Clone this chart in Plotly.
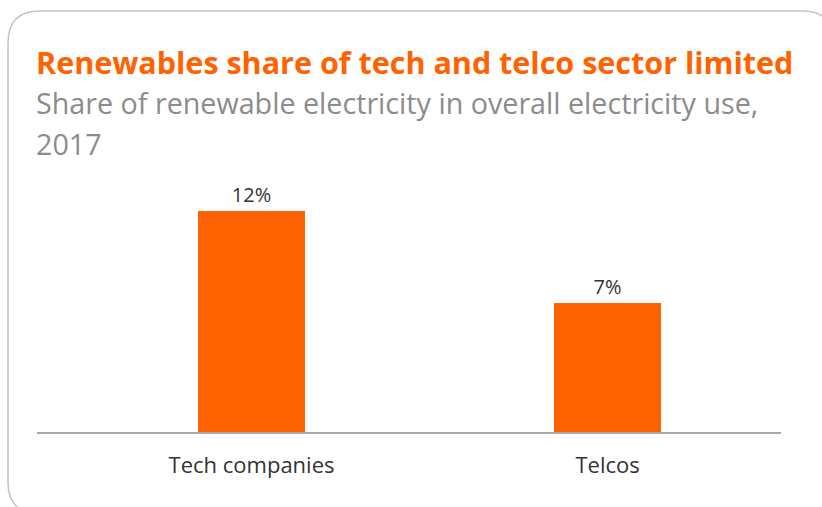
import plotly.graph_objects as go

categories = ["Tech companies", "Telcos"]
values = [12, 7]
labels = ["12%", "7%"]

title = "Renewables share of tech and telco sector limited"
subtitle_lines = ["Share of renewable electricity in overall electricity use,", "2017"]

W, H = 822, 507
L, R, T, B = 37, 781, 184, 432  # plot area in pixels

def px(x):
    return (x - L) / (R - L)

def py(y):
    return (B - y) / (B - T)

ORANGE = "#FF6200"
FONT = "Open Sans"

fig = go.Figure()
fig.add_trace(go.Bar(
    x=[0, 1], y=values, text=labels, textposition="outside",
    textfont=dict(size=20, color="#333333", family=FONT),
    marker=dict(color=ORANGE, line=dict(width=0)),
    width=0.30, cliponaxis=False, hoverinfo="skip",
))

# rounded card border
x0, y0, x1, y1, r = 8, 11, 834, 514, 32
path = (f"M {px(x0+r)},{py(y0)} L {px(x1-r)},{py(y0)} Q {px(x1)},{py(y0)} {px(x1)},{py(y0+r)} "
        f"L {px(x1)},{py(y1-r)} Q {px(x1)},{py(y1)} {px(x1-r)},{py(y1)} "
        f"L {px(x0+r)},{py(y1)} Q {px(x0)},{py(y1)} {px(x0)},{py(y1-r)} "
        f"L {px(x0)},{py(y0+r)} Q {px(x0)},{py(y0)} {px(x0+r)},{py(y0)} Z")
fig.add_shape(type="path", path=path, xref="paper", yref="paper",
              line=dict(color="#c4c4c4", width=1.5), layer="below")

fig.add_annotation(text=f"<b>{title}</b>", xref="paper", yref="paper",
                   x=px(34), y=py(62), xanchor="left", yanchor="middle",
                   showarrow=False, font=dict(size=30.5, color=ORANGE, family=FONT))
for i, line in enumerate(subtitle_lines):
    fig.add_annotation(text=line, xref="paper", yref="paper",
                       x=px(34), y=py(103 + 40 * i), xanchor="left", yanchor="middle",
                       showarrow=False, font=dict(size=28.7, color="#8c8c8c", family=FONT))

fig.update_layout(
    width=W, height=H,
    margin=dict(l=L, r=W - R, t=T, b=H - B),
    paper_bgcolor="white", plot_bgcolor="white",
    showlegend=False,
    bargap=0,
    xaxis=dict(range=[-0.6025, 1.487], tickmode="array", tickvals=[0, 1],
               ticktext=categories, showgrid=False, zeroline=False,
               showline=True, linecolor="#a8a8b0", linewidth=2,
               ticks="outside", ticklen=13, tickcolor="rgba(0,0,0,0)",
               tickfont=dict(size=22, color="#333333", family=FONT), fixedrange=True),
    yaxis=dict(range=[0, 248 / 18.4], visible=False, showgrid=False, zeroline=False),
)

fig.write_html("out.html")
